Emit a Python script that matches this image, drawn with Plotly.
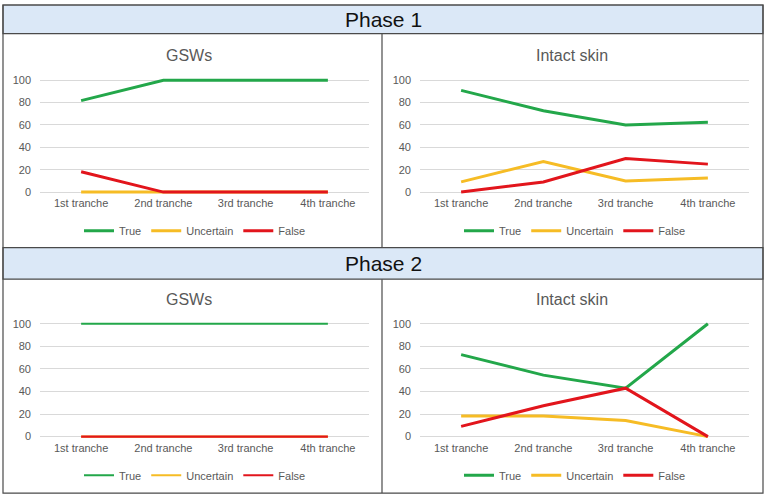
import plotly.graph_objects as go

W, H = 767, 501

categories = ["1st tranche", "2nd tranche", "3rd tranche", "4th tranche"]
series_names = ["True", "Uncertain", "False"]

p1_gsw_true = [81.8, 100, 100, 100]
p1_gsw_uncertain = [0, 0, 0, 0]
p1_gsw_false = [18.2, 0, 0, 0]

p1_skin_true = [90.9, 72.7, 60.0, 62.5]
p1_skin_uncertain = [9.1, 27.3, 10.0, 12.5]
p1_skin_false = [0, 9.1, 30.0, 25.0]

p2_gsw_true = [100, 100, 100, 100]
p2_gsw_uncertain = [0, 0, 0, 0]
p2_gsw_false = [0, 0, 0, 0]

p2_skin_true = [72.7, 54.5, 42.9, 100]
p2_skin_uncertain = [18.2, 18.2, 14.3, 0]
p2_skin_false = [9.1, 27.3, 42.9, 0]

panel_titles = ["GSWs", "Intact skin", "GSWs", "Intact skin"]
phase_labels = ["Phase 1", "Phase 2"]
y_ticks = [0, 20, 40, 60, 80, 100]

colors = {"True": "#23a74a", "Uncertain": "#f6bc25", "False": "#e2151c"}
FONT = "Liberation Sans, Arial, sans-serif"
GRAY = "#595959"

panels = [
    (p1_gsw_true, p1_gsw_uncertain, p1_gsw_false),
    (p1_skin_true, p1_skin_uncertain, p1_skin_false),
    (p2_gsw_true, p2_gsw_uncertain, p2_gsw_false),
    (p2_skin_true, p2_skin_uncertain, p2_skin_false),
]

# geometry in pixels: (x_left, x_right, y_of_100, y_of_0)
geo = [
    (40, 369, 78, 191),
    (420, 749, 78, 191),
    (40, 369, 324, 438),
    (420, 749, 324, 438),
]
title_x = [189, 572, 189, 572]
legend_x = [195, 575, 195, 575]
line_w = [3, 3, 2.2, 3]

def px_x(p):
    return p / W

def px_y(p):
    return 1 - p / H

fig = go.Figure()
layout_axes = {}
PAD = 3
for i, (vals, g) in enumerate(zip(panels, geo)):
    xl, xr, y100, y0 = g
    ppu = (y0 - y100) / 100.0
    top = y100 - PAD * ppu
    bot = y0 + PAD * ppu
    n = i + 1
    xa = "x" if n == 1 else f"x{n}"
    ya = "y" if n == 1 else f"y{n}"
    lg = "legend" if n == 1 else f"legend{n}"
    for name, v in zip(series_names, vals):
        fig.add_trace(go.Scatter(
            x=categories, y=v, mode="lines", name=name,
            line=dict(color=colors[name], width=line_w[i]),
            xaxis=xa, yaxis=ya, legend=lg, showlegend=True,
        ))
    xkey = "xaxis" if n == 1 else f"xaxis{n}"
    ykey = "yaxis" if n == 1 else f"yaxis{n}"
    layout_axes[xkey] = dict(
        domain=[px_x(xl), px_x(xr)], anchor=ya, type="category",
        range=[-0.5, 3.5], showgrid=False, zeroline=False, showline=False,
        ticks="", tickfont=dict(size=11, color=GRAY, family=FONT),
        categoryorder="array", categoryarray=categories,
    )
    layout_axes[ykey] = dict(
        domain=[px_y(bot), px_y(top)], anchor=xa,
        range=[-PAD, 100 + PAD], tickvals=y_ticks, showgrid=True,
        gridcolor="#d9d9d9", gridwidth=1, zeroline=False, showline=False,
        ticks="", tickfont=dict(size=11, color=GRAY, family=FONT),
        ticklabelstandoff=8,
    )
    layout_axes[lg] = dict(
        orientation="h", x=px_x(legend_x[i]), y=px_y(y0 + 39),
        xanchor="center", yanchor="middle",
        font=dict(size=11, color=GRAY, family=FONT),
        bgcolor="rgba(0,0,0,0)", itemwidth=30, tracegroupgap=0,
    )

annotations = []
for i, g in enumerate(geo):
    annotations.append(dict(
        x=px_x(title_x[i]), y=px_y(g[2] - 25), xref="paper", yref="paper",
        text=panel_titles[i], showarrow=False, xanchor="center", yanchor="middle",
        font=dict(size=16, color=GRAY, family=FONT),
    ))
for lbl, yc in zip(phase_labels, [17, 263]):
    annotations.append(dict(
        x=px_x(383), y=px_y(yc), xref="paper", yref="paper", text=lbl,
        showarrow=False, xanchor="center", yanchor="middle",
        font=dict(size=21, color="#111111", family=FONT),
    ))

BORDER = "#4a4a4a"
shapes = []
def rect_px(x0, y0, x1, y1, fill=None, lw=1.2):
    return dict(type="rect", xref="paper", yref="paper",
                x0=px_x(x0), x1=px_x(x1), y0=px_y(y1), y1=px_y(y0),
                line=dict(color=BORDER, width=lw),
                fillcolor=fill if fill else "rgba(0,0,0,0)", layer="below")
def line_px(x0, y0, x1, y1, lw=1.2):
    return dict(type="line", xref="paper", yref="paper",
                x0=px_x(x0), x1=px_x(x1), y0=px_y(y0), y1=px_y(y1),
                line=dict(color=BORDER, width=lw), layer="below")

shapes.append(rect_px(3, 2, 763, 31, fill="#dbe8f7"))
shapes.append(rect_px(3, 247, 763, 279, fill="#dbe8f7"))
shapes.append(rect_px(3, 2, 763, 495))
shapes.append(line_px(382, 31, 382, 247))
shapes.append(line_px(382, 279, 382, 495))

fig.update_layout(
    width=W, height=H, margin=dict(l=0, r=0, t=0, b=0),
    paper_bgcolor="white", plot_bgcolor="rgba(0,0,0,0)",
    font=dict(family=FONT, color=GRAY),
    annotations=annotations, shapes=shapes,
    **layout_axes,
)

fig.write_html("out.html")
